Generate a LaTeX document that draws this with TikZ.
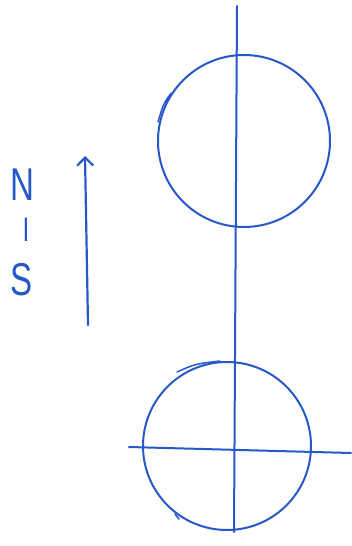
\documentclass[tikz,border=0pt]{standalone}
\usepackage{fontspec}
\setmainfont{Liberation Sans}
\usetikzlibrary{arrows.meta}
\definecolor{pen}{RGB}{38,88,200}
\begin{document}
\begin{tikzpicture}[x=1pt,y=-1pt,
  ink/.style={draw=pen,line width=2pt,line cap=round,line join=round},
  ring/.style={circle,ink,inner sep=0pt},
  letter/.style={text=pen,font=\fontsize{46}{46}\selectfont,xscale=0.72,inner sep=0pt}]
\useasboundingbox (0,0) rectangle (351,546);
% circles
\node[ring,minimum size=172pt] (top) at (244,141) {};
\node[ring,minimum size=168pt] (bot) at (227,446) {};
% axis lines
\coordinate (vt) at (237,6);
\coordinate (vb) at (234,532);
\coordinate (hl) at (129,447);
\coordinate (hr) at (351,453);
\draw[ink] (vt) -- (vb);
\draw[ink] (hl) -- (hr);
% small pen marks
\draw[ink,line width=1.5pt] (169,96) .. controls (163,105) .. (158,122);
\draw[ink,line width=1.3pt] (171,93) -- (165,103);
\draw[ink,line width=1.5pt] (177,372) .. controls (195,364) .. (220,361);
\draw[ink,line width=1.5pt] (175,514) -- (179,519);
% north arrow
\coordinate (as) at (88,325);
\coordinate (ae) at (85,156);
\draw[ink,line width=2.2pt,-{Straight Barb[length=8pt,width=16pt,line width=2.2pt]}] (as) -- (ae);
% letters
\node[letter] (N) at (22,185) {N};
\node[letter,font=\fontsize{34}{34}\selectfont] (I) at (26,230) {I};
\node[letter] (S) at (22,280) {S};
\end{tikzpicture}
\end{document}
